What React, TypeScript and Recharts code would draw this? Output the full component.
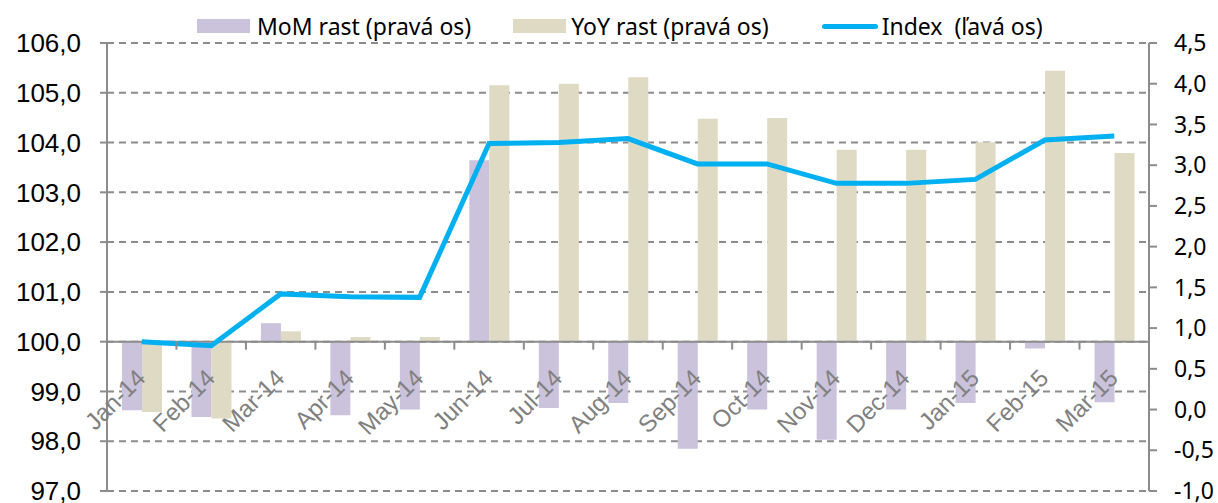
import { ComposedChart, Bar, Line, XAxis, YAxis, CartesianGrid, ReferenceLine, Legend, LabelList } from "recharts";

const months = [
  "Jan-14", "Feb-14", "Mar-14", "Apr-14", "May-14", "Jun-14", "Jul-14", "Aug-14",
  "Sep-14", "Oct-14", "Nov-14", "Dec-14", "Jan-15", "Feb-15", "Mar-15",
];
const momGrowth = [-0.01, -0.09, 1.06, -0.07, 0.0, 3.06, 0.02, 0.08, -0.48, 0.0, -0.37, 0.0, 0.08, 0.75, 0.09];
const yoyGrowth = [-0.03, -0.11, 0.96, 0.89, 0.89, 3.98, 4.0, 4.08, 3.57, 3.58, 3.19, 3.19, 3.28, 4.16, 3.15];
const indexValues = [100.0, 99.92, 100.96, 100.9, 100.89, 103.98, 104.0, 104.08, 103.57, 103.57, 103.18, 103.18, 103.26, 104.05, 104.13];
const leftTicks = [97, 98, 99, 100, 101, 102, 103, 104, 105, 106];
const rightTicks = [-1, -0.5, 0, 0.5, 1, 1.5, 2, 2.5, 3, 3.5, 4, 4.5];

const W = 1218;
const H = 503;
const PLOT_LEFT = 107;
const PLOT_RIGHT = 1149;
const PLOT_TOP = 43;
const X_AXIS_H = 12;
const PLOT_W = PLOT_RIGHT - PLOT_LEFT;
const PLOT_H = H - PLOT_TOP - X_AXIS_H;

const LEFT_MIN = leftTicks[0];
const LEFT_MAX = leftTicks[leftTicks.length - 1];
const RIGHT_MIN = rightTicks[0];
const RIGHT_MAX = rightTicks[rightTicks.length - 1];
const AXIS_VALUE = 100;
// bars hang from the category axis, which crosses the left axis at 100
const BAR_BASE = RIGHT_MIN + ((AXIS_VALUE - LEFT_MIN) / (LEFT_MAX - LEFT_MIN)) * (RIGHT_MAX - RIGHT_MIN);
const AXIS_Y = PLOT_TOP + ((LEFT_MAX - AXIS_VALUE) / (LEFT_MAX - LEFT_MIN)) * PLOT_H;
const BAND = PLOT_W / months.length;

const AXIS_GREY = "#8c8c8c";

const data = months.map((month, i) => ({
  month,
  mom: momGrowth[i],
  yoy: yoyGrowth[i],
  index: indexValues[i],
}));

const fromBase = (v: number) => (v < BAR_BASE ? [v, BAR_BASE] : [BAR_BASE, v]);
const comma = (v: number) => v.toFixed(1).replace(".", ",");

// only the boundary tick marks; the month names go on top of the bars (see MonthLabel)
const BoundaryTick = (props: any) => {
  const { x } = props;
  return (
    <line x1={x - BAND / 2} x2={x - BAND / 2} y1={AXIS_Y} y2={AXIS_Y + 8} stroke={AXIS_GREY} strokeWidth={2} />
  );
};

// drawn through the YoY bar's LabelList: its left edge is the category centre
const MonthLabel = (props: any) => {
  const { x, value } = props;
  const tx = x + 5;
  const ty = AXIS_Y + 38;
  return (
    <text
      x={tx}
      y={ty}
      transform={`rotate(-45 ${tx} ${ty})`}
      textAnchor="end"
      fill="#808080"
      fontSize={24}
      fontFamily="'Liberation Sans', Arial, sans-serif"
    >
      {value}
    </text>
  );
};

const renderLegend = (props: any) => {
  const { payload = [] } = props;
  const items = [...payload].sort((a: any, b: any) => (a.type === "line" ? 1 : 0) - (b.type === "line" ? 1 : 0));
  const gaps = [7, 5, 4];
  return (
    <div
      style={{
        display: "flex",
        alignItems: "center",
        paddingLeft: 197,
        fontFamily: "'Noto Sans', sans-serif",
        fontSize: 23,
        lineHeight: "30px",
        color: "#000",
      }}
    >
      {items.map((entry: any, i: number) => (
        <div key={entry.value} style={{ display: "flex", alignItems: "center", marginRight: i === 0 ? 42 : 53 }}>
          {entry.type === "line" ? (
            <span style={{ width: 56, height: 5, borderRadius: 3, background: entry.color, marginRight: gaps[i] }} />
          ) : (
            <span style={{ width: 53, height: 14, background: entry.color, marginRight: gaps[i] }} />
          )}
          <span style={{ whiteSpace: "pre" }}>{entry.value}</span>
        </div>
      ))}
    </div>
  );
};

export default function App() {
  return (
    <div style={{ position: "absolute", left: 0, top: 0, background: "#fff" }}>
      <ComposedChart
        width={W}
        height={H}
        data={data}
        margin={{ top: PLOT_TOP, right: 0, bottom: 0, left: 0 }}
        barGap={0}
      >
        <CartesianGrid
          yAxisId="left"
          vertical={false}
          stroke={AXIS_GREY}
          strokeWidth={2}
          strokeDasharray="7 5"
        />
        <XAxis
          dataKey="month"
          height={X_AXIS_H}
          axisLine={false}
          tickLine={false}
          interval={0}
          tick={<BoundaryTick />}
        />
        <YAxis
          yAxisId="left"
          orientation="left"
          width={PLOT_LEFT}
          domain={[LEFT_MIN, LEFT_MAX]}
          ticks={leftTicks}
          interval={0}
          tickFormatter={comma}
          axisLine={{ stroke: AXIS_GREY, strokeWidth: 2 }}
          tickLine={{ stroke: AXIS_GREY, strokeWidth: 2 }}
          tickSize={7}
          tickMargin={19}
          tick={{ fill: "#000", fontSize: 26, fontFamily: "'Liberation Sans', Arial, sans-serif" }}
        />
        <YAxis
          yAxisId="right"
          orientation="right"
          width={W - PLOT_RIGHT}
          domain={[RIGHT_MIN, RIGHT_MAX]}
          ticks={rightTicks}
          interval={0}
          tickFormatter={comma}
          axisLine={{ stroke: AXIS_GREY, strokeWidth: 2 }}
          tickLine={{ stroke: AXIS_GREY, strokeWidth: 2 }}
          tickSize={8}
          tickMargin={17}
          tick={{ fill: "#000", fontSize: 23, fontFamily: "'Noto Sans', sans-serif", textAnchor: "start" }}
        />
        <Legend
          verticalAlign="middle"
          content={renderLegend}
          wrapperStyle={{ position: "absolute", top: 11, left: 0, width: W }}
        />
        <Bar
          yAxisId="right"
          name="MoM rast (pravá os)"
          dataKey={(d: any) => fromBase(d.mom)}
          fill="#cbc2dc"
          barSize={20}
          isAnimationActive={false}
        />
        <Bar
          yAxisId="right"
          name="YoY rast (pravá os)"
          dataKey={(d: any) => fromBase(d.yoy)}
          fill="#dedac4"
          barSize={20}
          isAnimationActive={false}
        >
          <LabelList dataKey="month" content={<MonthLabel />} />
        </Bar>
        <ReferenceLine yAxisId="left" y={AXIS_VALUE} stroke={AXIS_GREY} strokeWidth={2} />
        <Line
          yAxisId="left"
          name="Index  (ľavá os)"
          type="linear"
          dataKey="index"
          stroke="#00b0f0"
          strokeWidth={5}
          dot={false}
          activeDot={false}
          legendType="line"
          isAnimationActive={false}
        />
      </ComposedChart>
    </div>
  );
}
